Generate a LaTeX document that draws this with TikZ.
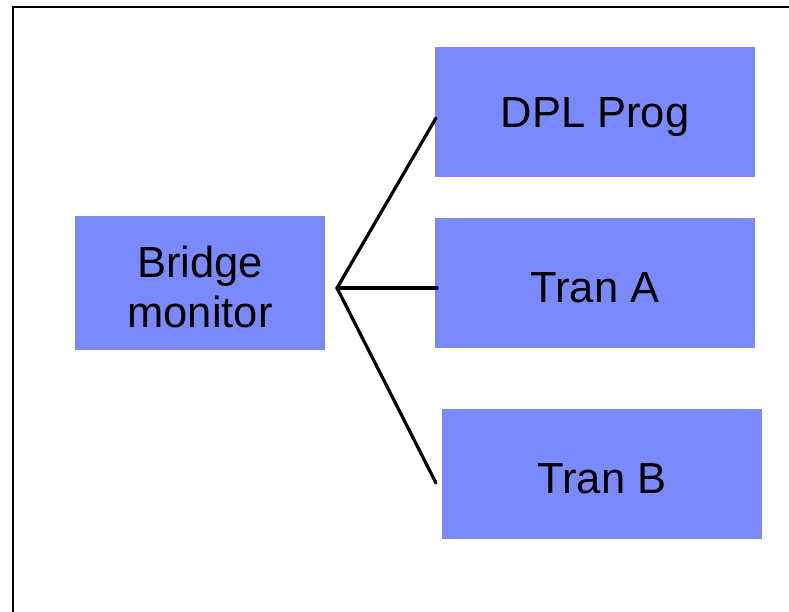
\documentclass[tikz,border=0pt]{standalone}
\usepackage{fontspec}
\setmainfont{Liberation Sans}
\definecolor{boxblue}{RGB}{122,138,252}
\begin{document}
\begin{tikzpicture}[x=1pt,y=-1pt,
  bluebox/.style={fill=boxblue,draw=none,inner sep=0pt},
  boxtext/.style={inner sep=0pt,font=\fontsize{43.5}{50}\selectfont,align=center},
  link/.style={line width=3.2pt,line cap=round,line join=round}]
\useasboundingbox (0,0) rectangle (789,611);
\begin{scope}
\clip (0,0) rectangle (789,611);
\draw[line width=2pt] (12.5,620) -- (12.5,7) -- (800,7);
\end{scope}
\node[bluebox,minimum width=250pt,minimum height=134pt] (bm) at (200,283) {};
\node[bluebox,minimum width=320pt,minimum height=130pt] (dpl) at (595,112) {};
\node[bluebox,minimum width=320pt,minimum height=130pt] (ta) at (595,283) {};
\node[bluebox,minimum width=320pt,minimum height=130pt] (tb) at (602,474) {};
\node[boxtext] (bmt) at ([yshift=-4pt]bm.center) {Bridge\\monitor};
\node[boxtext] (dplt) at ([yshift=-5pt]dpl.center) {DPL Prog};
\node[boxtext] (tat) at ([yshift=-5pt]ta.center) {Tran A};
\node[boxtext] (tbt) at ([yshift=-5pt]tb.center) {Tran B};
\coordinate (v) at (337,288);
\coordinate (e1) at (436,118);
\coordinate (e2) at (437,288);
\coordinate (e3) at (436,483);
\draw[link] (e1) -- (v) -- (e3);
\draw[link] (v) -- (e2);
\end{tikzpicture}
\end{document}
